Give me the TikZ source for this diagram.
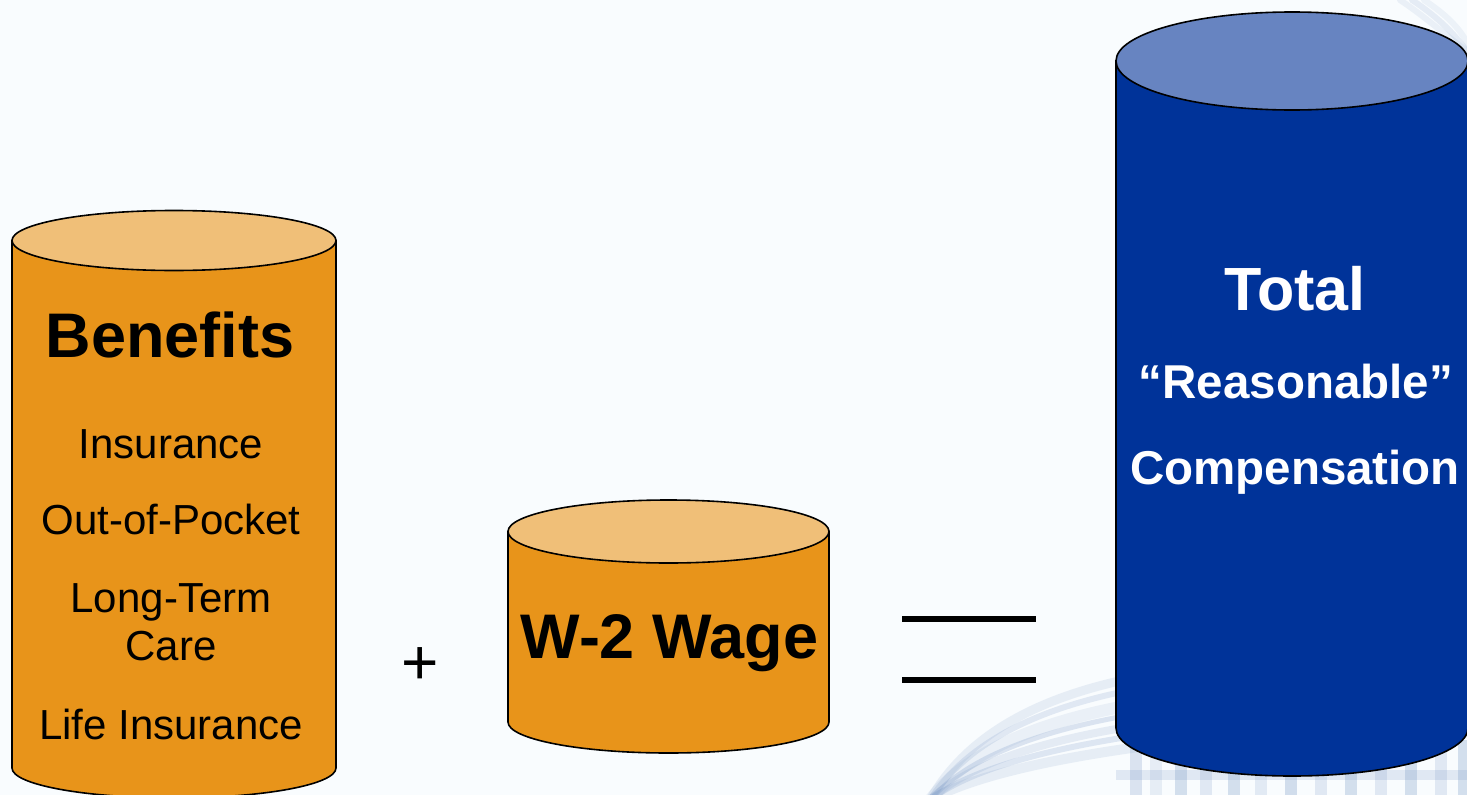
\documentclass[tikz,border=0pt]{standalone}
\usepackage{fontspec}
\setmainfont{Liberation Sans}
\begin{document}
\begin{tikzpicture}[x=1pt,y=-1pt,
  outline/.style={draw=black,line width=1.6pt},
  orangeside/.style={outline,fill=orangebody},
  orangetop/.style={outline,fill=orangeend},
  blueside/.style={outline,fill=bluebody},
  bluetop/.style={outline,fill=blueend},
  bigbold/.style={font=\fontsize{63}{70}\selectfont\bfseries,anchor=base,inner sep=0pt},
  item/.style={font=\fontsize{42}{48}\selectfont,anchor=base,inner sep=0pt},
  whitebold/.style={font=\fontsize{47.5}{54}\selectfont\bfseries,anchor=base,inner sep=0pt,text=white},
  swoosh/.style={line width=#1,draw=swooshblue,line cap=round}
]
\definecolor{bgcol}{HTML}{F9FCFE}
\definecolor{orangebody}{HTML}{E8941A}
\definecolor{orangeend}{HTML}{F0BF78}
\definecolor{bluebody}{HTML}{003399}
\definecolor{blueend}{HTML}{6784C1}
\definecolor{swooshblue}{HTML}{7E9CC8}
\useasboundingbox (0,0) rectangle (1467,795);
\fill[bgcol] (0,0) rectangle (1467,795);
% background decoration (bottom right swoosh)
\begin{scope}
\clip (0,0) rectangle (1467,795);
\foreach \o/\w/\a in {0/10/0.15,14/6/0.22,26/8/0.17,40/5/0.25,52/12/0.12,70/6/0.2,84/9/0.15}{
  \draw[swoosh=\w pt,opacity=\a] (930,800) .. controls (1000,{760-\o}) and (1200,{730-\o}) .. (1480,{720-\o*0.6});
}
\foreach \xx/\a in {1130/0.25,1150/0.15,1175/0.3,1200/0.2,1228/0.3,1255/0.18,1285/0.32,1315/0.2,1345/0.3,1375/0.2,1405/0.3,1435/0.2,1458/0.3}{
  \fill[swooshblue,opacity=\a] (\xx,740) rectangle ++(12,55);
}
\fill[swooshblue,opacity=0.2] (1116,770) rectangle (1467,780);
\foreach \o/\a in {0/0.12,12/0.16,24/0.1}{
  \draw[swoosh=6pt,opacity=\a] ({1400+\o},0) .. controls ({1430+\o},20) and ({1450+\o},40) .. (1480,{60+\o});
}
\end{scope}
% Benefits cylinder
\coordinate (bentop) at (174,240.5);
\path[orangeside] (12,240.5) -- (12,768) arc[start angle=180,end angle=360,x radius=162pt,y radius=30pt] -- (336,240.5) -- cycle;
\path[orangetop] (bentop) ellipse[x radius=162pt,y radius=30pt];
\node[bigbold] (ben) at (170,357) {Benefits};
\node[item] (ins) at (171,458) {Insurance};
\node[item] (oop) at (171,534) {Out-of-Pocket};
\node[item] (ltc) at (171,612) {Long-Term};
\node[item] (care) at (171,660) {Care};
\node[item] (life) at (171,739) {Life Insurance};
% plus
\node[font=\fontsize{64}{64}\selectfont,inner sep=0pt] (plus) at (420,666) {+};
% W-2 cylinder
\coordinate (wtop) at (668.5,531.5);
\path[orangeside] (508,531.5) -- (508,722) arc[start angle=180,end angle=360,x radius=160.5pt,y radius=31pt] -- (829,531.5) -- cycle;
\path[orangetop] (wtop) ellipse[x radius=160.5pt,y radius=31.5pt];
\node[bigbold] (wage) at (669.5,658) {W-2 Wage};
% equals
\coordinate (eqa) at (902,619);
\coordinate (eqb) at (1036,619);
\coordinate (eqc) at (902,680);
\coordinate (eqd) at (1036,680);
\draw[line width=6pt] (eqa) -- (eqb);
\draw[line width=6pt] (eqc) -- (eqd);
% Total cylinder
\coordinate (ttop) at (1292,61);
\path[blueside] (1116,61) -- (1116,728) arc[start angle=180,end angle=360,x radius=176pt,y radius=48pt] -- (1468,61) -- cycle;
\path[bluetop] (ttop) ellipse[x radius=176pt,y radius=49pt];
\node[whitebold,font=\fontsize{61}{66}\selectfont\bfseries] (total) at (1295,310) {Total};
\node[whitebold] (reas) at (1296,398) {“Reasonable”};
\node[whitebold] (comp) at (1295,484) {Compensation};
\end{tikzpicture}
\end{document}
